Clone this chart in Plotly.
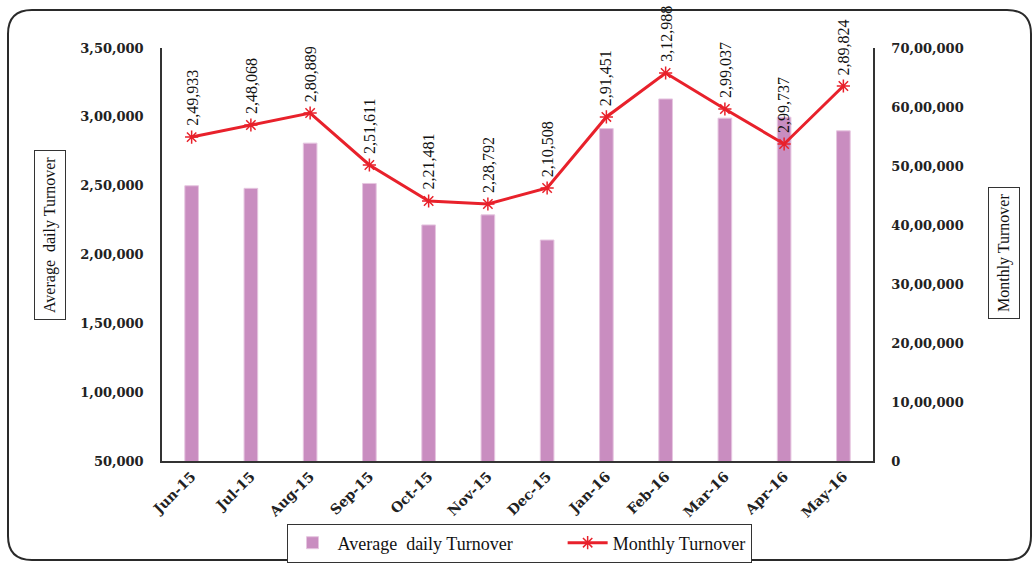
import plotly.graph_objects as go

# Months on the category axis
months = ["Jun-15", "Jul-15", "Aug-15", "Sep-15", "Oct-15", "Nov-15",
          "Dec-15", "Jan-16", "Feb-16", "Mar-16", "Apr-16", "May-16"]

# Average daily turnover (bars, left axis)
avg_daily = [249933, 248068, 280889, 251611, 221481, 228792,
             210508, 291451, 312988, 299037, 299737, 289824]

# Monthly turnover (line, right axis)
monthly = [5490000, 5695000, 5898000, 5017000, 4407000, 4356000,
           4627000, 5831000, 6576000, 5966000, 5373000, 6356000]

left_ticks = [50000, 100000, 150000, 200000, 250000, 300000, 350000]
right_ticks = [0, 1000000, 2000000, 3000000, 4000000, 5000000, 6000000, 7000000]


def inr(v):
    """Format a number with Indian digit grouping (e.g. 2,49,933)."""
    s = str(int(v))
    if len(s) <= 3:
        return s
    head, tail = s[:-3], s[-3:]
    groups = []
    while len(head) > 2:
        groups.insert(0, head[-2:])
        head = head[:-2]
    if head:
        groups.insert(0, head)
    return ",".join(groups) + "," + tail


BAR_COLOR = "#c98dc0"
LINE_COLOR = "#e8212b"
MARK_COLOR = "#9b1b24"
TICK_FONT = dict(family="DejaVu Serif", size=13, color="#222222", weight="bold")
XTICK_FONT = dict(family="DejaVu Serif", size=14, color="#222222", weight="bold")
SERIF = "Liberation Serif"
NBSP = "\u00a0"

fig = go.Figure()
fig.add_bar(
    x=months, y=avg_daily,
    # trailing non-breaking spaces widen the first legend entry
    name="Average" + NBSP + " daily Turnover" + NBSP * 10,
    width=0.23,
    marker=dict(color=BAR_COLOR, line=dict(color="#e6c6e0", width=1)),
)
fig.add_scatter(
    x=months, y=monthly, yaxis="y2", name="Monthly Turnover",
    mode="lines+markers",
    line=dict(color=LINE_COLOR, width=3),
    marker=dict(symbol="asterisk-open", size=11,
                line=dict(color=MARK_COLOR, width=1.5)),
)

# Plot area in pixels, used to place items outside the axes
W, H = 1036, 563
L, R, T, B = 162, 163, 48, 102
pw, ph = W - L - R, H - T - B


def px(x):
    return (x - L) / pw


def py(y):
    return (H - B - y) / ph


annotations = []
# Rotated value labels above each monthly point
for m, v, d in zip(months, monthly, avg_daily):
    annotations.append(dict(
        x=m, y=v, xref="x", yref="y2", text=inr(d), textangle=-90,
        showarrow=False, yanchor="bottom", xanchor="center", yshift=9,
        font=dict(family=SERIF, size=16, color="#111111"),
    ))

# Boxed axis titles
annotations.append(dict(
    x=px(50), y=py(235), xref="paper", yref="paper",
    xanchor="center", yanchor="middle",
    text="Average" + NBSP + " daily Turnover", textangle=-90, showarrow=False,
    bordercolor="#333333", borderwidth=1, borderpad=6,
    font=dict(family=SERIF, size=16, color="#111111"),
))
annotations.append(dict(
    x=px(1004), y=py(253), xref="paper", yref="paper",
    xanchor="center", yanchor="middle",
    text="Monthly Turnover", textangle=-90, showarrow=False,
    bordercolor="#333333", borderwidth=1, borderpad=6,
    font=dict(family=SERIF, size=16, color="#111111"),
))

# Rounded frame around the whole chart
x0, x1, y0, y1, r = 8, 1031, 10, 560, 24
path = (
    f"M {px(x0 + r)} {py(y0)} L {px(x1 - r)} {py(y0)} "
    f"Q {px(x1)} {py(y0)} {px(x1)} {py(y0 + r)} "
    f"L {px(x1)} {py(y1 - r)} Q {px(x1)} {py(y1)} {px(x1 - r)} {py(y1)} "
    f"L {px(x0 + r)} {py(y1)} Q {px(x0)} {py(y1)} {px(x0)} {py(y1 - r)} "
    f"L {px(x0)} {py(y0 + r)} Q {px(x0)} {py(y0)} {px(x0 + r)} {py(y0)} Z"
)

fig.update_layout(
    width=W, height=H,
    margin=dict(l=L, r=R, t=T, b=B, autoexpand=False),
    paper_bgcolor="white", plot_bgcolor="white",
    shapes=[dict(type="path", path=path, xref="paper", yref="paper",
                 line=dict(color="#2a2a2a", width=2))],
    annotations=annotations,
    legend=dict(
        orientation="h", x=px(519), y=py(543), xanchor="center", yanchor="middle",
        bordercolor="#333333", borderwidth=1,
        font=dict(family=SERIF, size=18, color="#111111"),
        itemwidth=40,
    ),
    xaxis=dict(
        range=[-0.5, len(months) - 0.5],
        showline=True, linecolor="#333333", linewidth=1.5,
        tickangle=-45, tickfont=XTICK_FONT, ticks="", showgrid=False,
    ),
    yaxis=dict(
        range=[50000, 350000], tickvals=left_ticks,
        ticktext=[inr(v) for v in left_ticks],
        showline=True, linecolor="#333333", linewidth=1.5,
        showgrid=False, zeroline=False, ticks="",
        tickfont=TICK_FONT, ticklabelstandoff=14,
    ),
    yaxis2=dict(
        overlaying="y", side="right",
        range=[0, 7000000], tickvals=right_ticks,
        ticktext=[inr(v) for v in right_ticks],
        showline=True, linecolor="#333333", linewidth=1.5,
        showgrid=False, zeroline=False, ticks="",
        tickfont=TICK_FONT, ticklabelstandoff=14,
    ),
)

fig.write_html("out.html")
